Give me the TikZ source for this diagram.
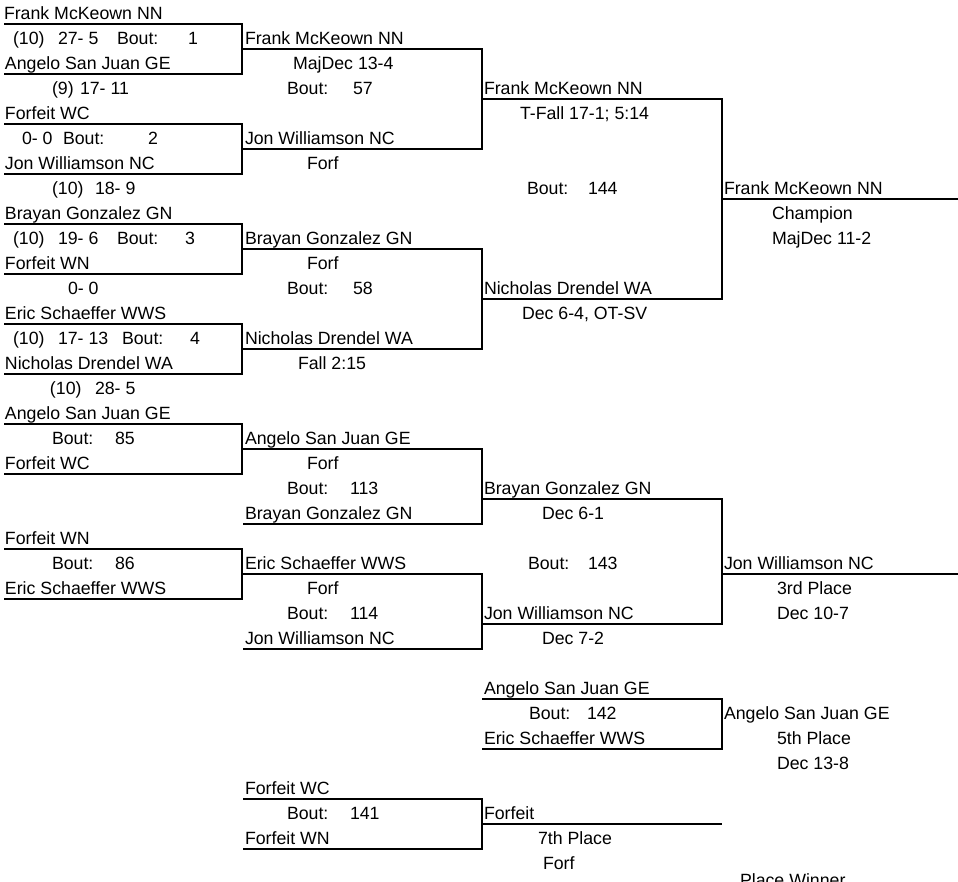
\documentclass[tikz,border=0pt]{standalone}
\usepackage{fontspec}
\setmainfont{Liberation Sans}
\begin{document}
\begin{tikzpicture}[x=0.75pt,y=-0.75pt,
  txt/.style={anchor=base west,inner sep=0pt,outer sep=0pt,font=\fontsize{13.3}{15}\selectfont},
  ln/.style={line width=0.9pt,black}]
\clip (0,0) rectangle (958,882);
\fill[white] (0,0) rectangle (958,882);
% text macro: name, x, row, text
\newcommand{\tx}[4]{\node[txt] (#1) at (#2,{19.5+25*#3}) {#4};}
% bracket macro: x1, x2, row top, row bottom
\newcommand{\brk}[4]{\draw[ln] (#1,{24+25*#3}) -- (#2,{24+25*#3}) -- (#2,{24+25*#4}) -- (#1,{24+25*#4});}
% ---------- column 1 ----------
\tx{a0}{4}{0}{Frank McKeown NN}
\tx{a1a}{13}{1}{(10)}\tx{a1b}{58}{1}{27- 5}\tx{a1c}{117}{1}{Bout:}\tx{a1d}{188}{1}{1}
\tx{a2}{5}{2}{Angelo San Juan GE}
\tx{a3a}{52}{3}{(9)}\tx{a3b}{80}{3}{17- 11}
\tx{a4}{5}{4}{Forfeit WC}
\tx{a5a}{22}{5}{0- 0}\tx{a5b}{63}{5}{Bout:}\tx{a5c}{148}{5}{2}
\tx{a6}{5}{6}{Jon Williamson NC}
\tx{a7a}{52}{7}{(10)}\tx{a7b}{95}{7}{18- 9}
\tx{a8}{5}{8}{Brayan Gonzalez GN}
\tx{a9a}{13}{9}{(10)}\tx{a9b}{58}{9}{19- 6}\tx{a9c}{117}{9}{Bout:}\tx{a9d}{185}{9}{3}
\tx{a10}{5}{10}{Forfeit WN}
\tx{a11}{68}{11}{0- 0}
\tx{a12}{5}{12}{Eric Schaeffer WWS}
\tx{a13a}{13}{13}{(10)}\tx{a13b}{58}{13}{17- 13}\tx{a13c}{122}{13}{Bout:}\tx{a13d}{190}{13}{4}
\tx{a14}{5}{14}{Nicholas Drendel WA}
\tx{a15a}{50}{15}{(10)}\tx{a15b}{95}{15}{28- 5}
\tx{a16}{5}{16}{Angelo San Juan GE}
\tx{a17a}{52}{17}{Bout:}\tx{a17b}{115}{17}{85}
\tx{a18}{5}{18}{Forfeit WC}
\tx{a21}{5}{21}{Forfeit WN}
\tx{a22a}{52}{22}{Bout:}\tx{a22b}{115}{22}{86}
\tx{a23}{5}{23}{Eric Schaeffer WWS}
\brk{4}{242}{0}{2}
\brk{4}{242}{4}{6}
\brk{4}{242}{8}{10}
\brk{4}{242}{12}{14}
\brk{4}{242}{16}{18}
\brk{4}{242}{21}{23}
% ---------- column 2 ----------
\tx{b1}{245}{1}{Frank McKeown NN}
\tx{b2}{293}{2}{MajDec 13-4}
\tx{b3a}{287}{3}{Bout:}\tx{b3b}{353}{3}{57}
\tx{b5}{245}{5}{Jon Williamson NC}
\tx{b6}{307}{6}{Forf}
\tx{b9}{245}{9}{Brayan Gonzalez GN}
\tx{b10}{307}{10}{Forf}
\tx{b11a}{287}{11}{Bout:}\tx{b11b}{353}{11}{58}
\tx{b13}{245}{13}{Nicholas Drendel WA}
\tx{b14}{298}{14}{Fall 2:15}
\tx{b17}{245}{17}{Angelo San Juan GE}
\tx{b18}{307}{18}{Forf}
\tx{b19a}{287}{19}{Bout:}\tx{b19b}{350}{19}{113}
\tx{b20}{245}{20}{Brayan Gonzalez GN}
\tx{b22}{245}{22}{Eric Schaeffer WWS}
\tx{b23}{307}{23}{Forf}
\tx{b24a}{287}{24}{Bout:}\tx{b24b}{350}{24}{114}
\tx{b25}{245}{25}{Jon Williamson NC}
\tx{b31}{245}{31}{Forfeit WC}
\tx{b32a}{287}{32}{Bout:}\tx{b32b}{350}{32}{141}
\tx{b33}{245}{33}{Forfeit WN}
\brk{243}{482}{1}{5}
\brk{243}{482}{9}{13}
\brk{243}{482}{17}{20}
\brk{243}{482}{22}{25}
\brk{243}{482}{31}{33}
% ---------- column 3 ----------
\tx{c3}{484}{3}{Frank McKeown NN}
\tx{c4}{520}{4}{T-Fall 17-1; 5:14}
\tx{c7a}{527}{7}{Bout:}\tx{c7b}{588}{7}{144}
\tx{c11}{484}{11}{Nicholas Drendel WA}
\tx{c12}{522}{12}{Dec 6-4, OT-SV}
\tx{c19}{484}{19}{Brayan Gonzalez GN}
\tx{c20}{542}{20}{Dec 6-1}
\tx{c22a}{528}{22}{Bout:}\tx{c22b}{588}{22}{143}
\tx{c24}{484}{24}{Jon Williamson NC}
\tx{c25}{542}{25}{Dec 7-2}
\tx{c27}{484}{27}{Angelo San Juan GE}
\tx{c28a}{529}{28}{Bout:}\tx{c28b}{587}{28}{142}
\tx{c29}{484}{29}{Eric Schaeffer WWS}
\tx{c32}{484}{32}{Forfeit}
\tx{c33}{538}{33}{7th Place}
\tx{c34}{543}{34}{Forf}
\brk{482}{722}{3}{11}
\brk{482}{722}{19}{24}
\brk{482}{722}{27}{29}
\draw[ln] (482,{24+25*32}) -- (722,{24+25*32});
% ---------- column 4 ----------
\tx{d7}{724}{7}{Frank McKeown NN}
\tx{d8}{772}{8}{Champion}
\tx{d9}{772}{9}{MajDec 11-2}
\tx{d22}{724}{22}{Jon Williamson NC}
\tx{d23}{777}{23}{3rd Place}
\tx{d24}{777}{24}{Dec 10-7}
\tx{d28}{724}{28}{Angelo San Juan GE}
\tx{d29}{777}{29}{5th Place}
\tx{d30}{777}{30}{Dec 13-8}
\node[txt] (d35) at (740,886) {Place Winner};
\draw[ln] (722,{24+25*7}) -- (958,{24+25*7});
\draw[ln] (722,{24+25*22}) -- (958,{24+25*22});
\end{tikzpicture}
\end{document}
